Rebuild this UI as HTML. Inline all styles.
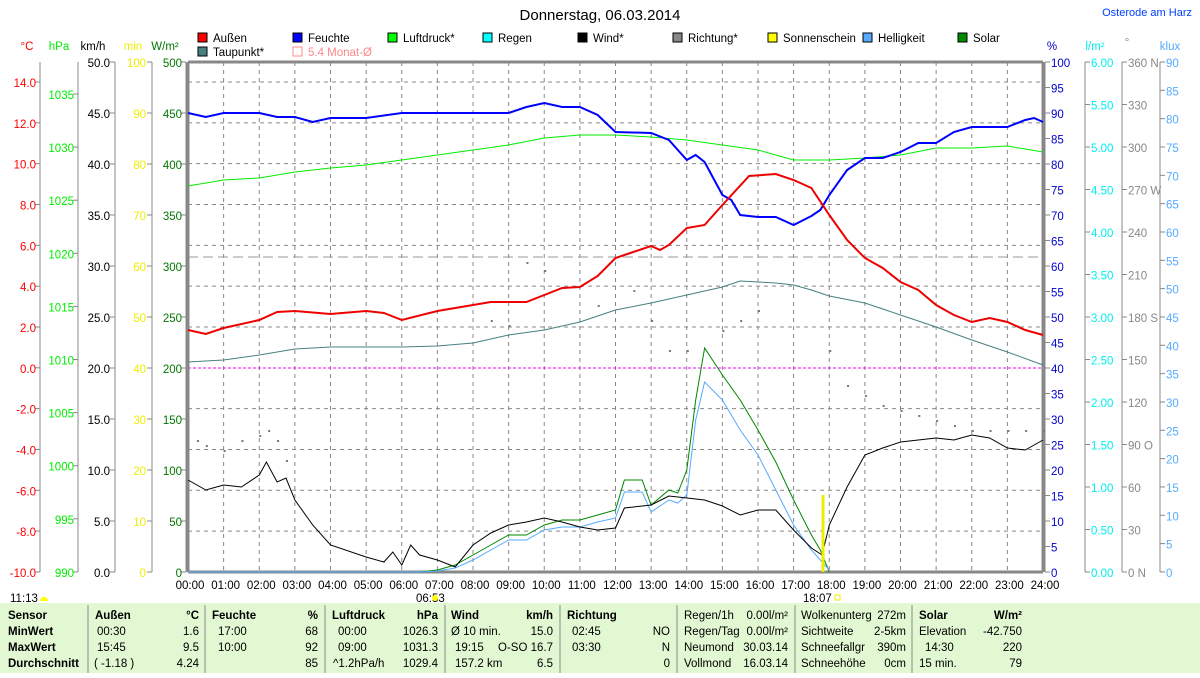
<!DOCTYPE html>
<html><head><meta charset="utf-8"><style>
body{margin:0;width:1200px;height:673px;overflow:hidden;background:#fff;font-family:"Liberation Sans",sans-serif}
svg text{font-family:"Liberation Sans",sans-serif;font-size:11.5px}
</style></head><body>
<svg id="s" width="1200" height="673" xmlns="http://www.w3.org/2000/svg">
<rect x="0" y="603" width="1200" height="70" fill="#e2f8d2"/>
<text x="600" y="20" text-anchor="middle" style="font-size:15px">Donnerstag, 06.03.2014</text>
<text x="1192" y="16" text-anchor="end" fill="#0040ff" style="font-size:11px">Osterode am Harz</text>
</svg>
<script>
const s=document.getElementById('s');const NS='http://www.w3.org/2000/svg';
function el(t,a,txt){const e=document.createElementNS(NS,t);for(const k in a)e.setAttribute(k,a[k]);if(txt!==undefined)e.textContent=txt;s.appendChild(e);return e;}
function tx(x,y,t,c,anc,extra){const a={x:x,y:y,fill:c||'#000','text-anchor':anc||'start'};if(extra)Object.assign(a,extra);return el('text',a,t);}
const X0=188,X1=1043,HW=(X1-X0)/24,Y0=62,Y1=572;
function hx(h){return X0+h*HW;}
for(let h=1;h<24;h++)el('line',{x1:hx(h),y1:Y0,x2:hx(h),y2:Y1,stroke:'#888','stroke-dasharray':'4,4'});
for(let i=0;i<12;i++){const y=82+i*40.83;if(Math.abs(y-368)<2)continue;el('line',{x1:X0,y1:y,x2:X1,y2:y,stroke:'#888','stroke-dasharray':'4,4'});}
el('line',{x1:X0,y1:257,x2:X1,y2:257,stroke:'#999','stroke-dasharray':'10,5'});
el('line',{x1:X0,y1:368,x2:X1,y2:368,stroke:'#f0f','stroke-dasharray':'3,2'});
el('line',{x1:X0,y1:Y0,x2:X0,y2:Y1,stroke:'#888','stroke-width':3});
el('line',{x1:X1,y1:Y0,x2:X1,y2:Y1,stroke:'#888','stroke-width':3});
el('line',{x1:X0,y1:Y0,x2:X1,y2:Y0,stroke:'#888','stroke-width':3});
el('line',{x1:X0,y1:Y1,x2:X1,y2:Y1,stroke:'#888','stroke-width':3});
for(let h=0;h<=24;h++){tx(hx(h)+2,589,(h<10?'0':'')+h+':00','#000','middle');}
tx(416,602,'06:53');el('circle',{cx:435,cy:598,r:3,fill:'#ff0'});
tx(803,602,'18:07');el('rect',{x:835,y:595,width:5,height:5,fill:'none',stroke:'#ee0'});
tx(10,602,'11:13');el('path',{d:'M40 601 a4 4 0 0 1 8 0z',fill:'#ff0'});
function axis(ax,lx,vals,y0,step,col,anc,tickLeft){el('line',{x1:ax,y1:Y0,x2:ax,y2:Y1,stroke:'#888'});vals.forEach((v,i)=>{const y=y0+i*step;el('line',{x1:ax,x2:ax+(tickLeft?-5:5),y1:y,y2:y,stroke:'#888'});tx(lx,y+5,v,col,anc);});}
axis(40,36,['14.0','12.0','10.0','8.0','6.0','4.0','2.0','0.0','-2.0','-4.0','-6.0','-8.0','-10.0'],82,40.83,'#f00','end',true);
axis(78,74,['1035','1030','1025','1020','1015','1010','1005','1000','995','990'],94,53.1,'#0e0','end',true);
axis(115,110,['50.0','45.0','40.0','35.0','30.0','25.0','20.0','15.0','10.0','5.0','0.0'],62,51,'#000','end',true);
axis(152,146,['100','90','80','70','60','50','40','30','20','10','0'],62,51,'#ee0','end',true);
axis(186,182,['500','450','400','350','300','250','200','150','100','50','0'],62,51,'#070','end',true);
tx(27,50,'°C','#f00','middle');tx(59,50,'hPa','#0e0','middle');tx(93,50,'km/h','#000','middle');tx(133,50,'min','#ee0','middle');tx(165,50,'W/m²','#070','middle');
function raxis(ax,vals,y0,step,col){el('line',{x1:ax,y1:Y0,x2:ax,y2:Y1,stroke:'#888'});vals.forEach((v,i)=>{const y=y0+i*step;el('line',{x1:ax,x2:ax+5,y1:y,y2:y,stroke:'#888'});tx(ax+6,y+5,v,col);});}
let pv=[];for(let v=100;v>=0;v-=5)pv.push(''+v);raxis(1045,pv,62,25.5,'#00c');
let lv=[];for(let v=6;v>=0;v-=0.5)lv.push(v.toFixed(2));raxis(1085,lv,62,42.5,'#0ee');
let dv=['360 N','330','300','270 W','240','210','180 S','150','120','90 O','60','30','0   N'];raxis(1122,dv,62,42.5,'#888');
let kv=[];for(let v=90;v>=0;v-=5)kv.push(''+v);raxis(1160,kv,62,28.33,'#5af');
tx(1052,50,'%','#00c','middle');tx(1095,50,'l/m²','#0ee','middle');tx(1127,46,'°','#888','middle');tx(1170,50,'klux','#5af','middle');
const lg=[[198,38,'#f00','Außen'],[293,38,'#00f','Feuchte'],[388,38,'#0f0','Luftdruck*'],[483,38,'#0ff','Regen'],[578,38,'#000','Wind*'],[673,38,'#888','Richtung*'],[768,38,'#ff0','Sonnenschein'],[863,38,'#5af','Helligkeit'],[958,38,'#080','Solar'],[198,52,'#478080','Taupunkt*']];
lg.forEach(l=>{el('rect',{x:l[0],y:l[1]-5,width:9,height:9,fill:l[2],stroke:'#000'});tx(l[0]+15,l[1]+4,l[3]);});
el('rect',{x:293,y:47,width:9,height:9,fill:'none',stroke:'#f88'});tx(308,56,'5.4 Monat-Ø','#f88');
function line(pts,col,w){let d='';pts.forEach((p,i)=>{d+=(i?'L':'M')+hx(p[0]).toFixed(1)+' '+p[1]+' ';});el('path',{d:d,fill:'none',stroke:col,'stroke-width':w||1});}
line([[0,362],[1,360],[2,355],[3,349],[4,347],[6,347],[7,346],[8,343],[9,335],[10,330],[11,322],[12,310],[13,303],[14,295],[15,287],[15.5,281],[16.5,283],[17,285],[17.5,290],[18,296],[19,303],[20,315],[21,327],[22,340],[23,352],[24,365]],'#478080');
line([[0,186],[1,180],[2,178],[3,172],[4,168],[5,165],[6,160],[7,155],[8,150],[9,145],[10,138],[11,135],[12,135],[13,137],[14,140],[15,145],[16,150],[17,160],[18,160],[19,158],[20,155],[21,148],[22,148],[23,146],[24,152]],'#0e0');
line([[0,572],[6.5,572],[7,570],[7.5,565],[8,555],[8.5,545],[9,535],[9.5,535],[10,525],[10.5,520],[11,520],[11.5,515],[12,510],[12.25,480],[12.75,480],[13,505],[13.5,490],[13.75,493],[14,470],[14.25,400],[14.5,348],[15,375],[15.5,400],[16,430],[16.5,462],[17,500],[17.5,535],[17.75,550],[18,572]],'#080');
line([[0,572],[6.5,572],[7,571],[7.5,568],[8,560],[8.5,550],[9,540],[9.5,540],[10,530],[10.5,527],[11,527],[11.5,522],[12,518],[12.25,492],[12.75,492],[13,512],[13.5,500],[13.75,503],[14,495],[14.25,420],[14.5,382],[15,400],[15.5,430],[16,455],[16.5,490],[17,525],[17.5,550],[17.75,560],[18,570]],'#5af');
line([[0,480],[0.5,490],[1,485],[1.5,487],[2,475],[2.2,462],[2.5,482],[2.75,478],[3,500],[3.5,525],[4,545],[5,557],[5.5,562],[5.75,552],[6,565],[6.25,545],[6.5,555],[7,560],[7.5,567],[8,545],[8.5,533],[9,525],[9.5,522],[10,518],[10.5,522],[11,527],[11.5,530],[12,528],[12.25,508],[12.75,506],[13,505],[13.5,496],[14,498],[14.5,500],[15,506],[15.5,515],[16,510],[16.5,510],[17,530],[17.5,548],[17.8,555],[18,525],[18.5,487],[19,455],[19.5,448],[20,442],[21,438],[21.5,440],[22,435],[22.5,438],[23,448],[23.5,450],[24,440]],'#000');
line([[0,113],[0.5,117],[1,113],[2,113],[2.5,117],[3,117],[3.5,122],[4,118],[5,118],[6,113],[9,113],[9.5,107],[10,103],[10.5,107],[11,107],[11.5,115],[12,132],[13,133],[13.5,140],[14,160],[14.25,155],[14.5,162],[15,195],[15.25,200],[15.5,215],[16,217],[16.5,217],[17,225],[17.5,216],[17.75,210],[18,195],[18.5,170],[19,158],[19.5,158],[20,152],[20.5,143],[21,143],[21.5,132],[22,127],[23,127],[23.5,120],[23.75,118],[24,122]],'#00f',2);
line([[0,330],[0.5,334],[1,328],[2,320],[2.5,312],[3,311],[4,314],[5,311],[5.5,313],[6,320],[7,311],[8,305],[8.5,302],[9.5,302],[10,295],[10.5,288],[11,287],[11.5,276],[12,258],[12.5,252],[13,246],[13.25,250],[13.5,245],[14,228],[14.5,225],[15,205],[15.75,176],[16.5,174],[17,180],[17.5,188],[18,215],[18.5,240],[19,258],[19.5,268],[20,282],[20.5,290],[21,305],[21.5,315],[22,322],[22.5,318],[23,322],[23.5,330],[24,335]],'#e00',2);
[[0.25,440],[0.5,445],[1,450],[1.5,440],[2,435],[2.25,430],[2.5,440],[2.75,460],[8.5,320],[9,325],[13,320],[13.5,350],[14,350],[15,330],[15.5,320],[16,310],[18,350],[18.5,385],[19,395],[19.5,405],[20,410],[20.5,415],[21,420],[21.5,425],[22,430],[22.5,430],[23,430],[23.5,430],[24,430],[10,270],[9.5,262],[11.5,305],[12.5,290]].forEach(p=>el('rect',{x:hx(p[0]),y:p[1],width:2,height:2,fill:'#777'}));
el('line',{x1:823,y1:495,x2:823,y2:572,stroke:'#ee0','stroke-width':3});
const seps=[88,205,325,445,560,677,795,912];seps.forEach(x=>el('line',{x1:x,y1:605,x2:x,y2:673,stroke:'#888'}));
const B={'font-weight':'bold'};
const rows=[619,635,651,667];
tx(8,rows[0],'Sensor','#000','start',B);tx(8,rows[1],'MinWert','#000','start',B);tx(8,rows[2],'MaxWert','#000','start',B);tx(8,rows[3],'Durchschnitt','#000','start',B);
tx(95,rows[0],'Außen','#000','start',B);tx(199,rows[0],'°C','#000','end',B);
tx(212,rows[0],'Feuchte','#000','start',B);tx(318,rows[0],'%','#000','end',B);
tx(332,rows[0],'Luftdruck','#000','start',B);tx(438,rows[0],'hPa','#000','end',B);
tx(451,rows[0],'Wind','#000','start',B);tx(553,rows[0],'km/h','#000','end',B);
tx(567,rows[0],'Richtung','#000','start',B);
const c=[[97,'00:30','start',1],[199,'1.6','end',1],[97,'15:45','start',2],[199,'9.5','end',2],[94,'( -1.18 )','start',3],[199,'4.24','end',3],
[218,'17:00','start',1],[318,'68','end',1],[218,'10:00','start',2],[318,'92','end',2],[318,'85','end',3],
[338,'00:00','start',1],[438,'1026.3','end',1],[338,'09:00','start',2],[438,'1031.3','end',2],[333,'^1.2hPa/h','start',3],[438,'1029.4','end',3],
[451,'Ø 10 min.','start',1],[553,'15.0','end',1],[455,'19:15','start',2],[553,'O-SO 16.7','end',2],[455,'157.2 km','start',3],[553,'6.5','end',3],
[572,'02:45','start',1],[670,'NO','end',1],[572,'03:30','start',2],[670,'N','end',2],[670,'0','end',3],
[684,'Regen/1h','start',0],[788,'0.00l/m²','end',0],[684,'Regen/Tag','start',1],[788,'0.00l/m²','end',1],[684,'Neumond','start',2],[788,'30.03.14','end',2],[684,'Vollmond','start',3],[788,'16.03.14','end',3],
[801,'Wolkenunterg','start',0],[906,'272m','end',0],[801,'Sichtweite','start',1],[906,'2-5km','end',1],[801,'Schneefallgr','start',2],[906,'390m','end',2],[801,'Schneehöhe','start',3],[906,'0cm','end',3],
[919,'Elevation','start',1],[1022,'-42.750','end',1],[925,'14:30','start',2],[1022,'220','end',2],[919,'15 min.','start',3],[1022,'79','end',3]];
c.forEach(q=>tx(q[0],rows[q[3]],q[1],'#000',q[2]));
tx(919,rows[0],'Solar','#000','start',B);tx(1022,rows[0],'W/m²','#000','end',B);
</script>
</body></html>
